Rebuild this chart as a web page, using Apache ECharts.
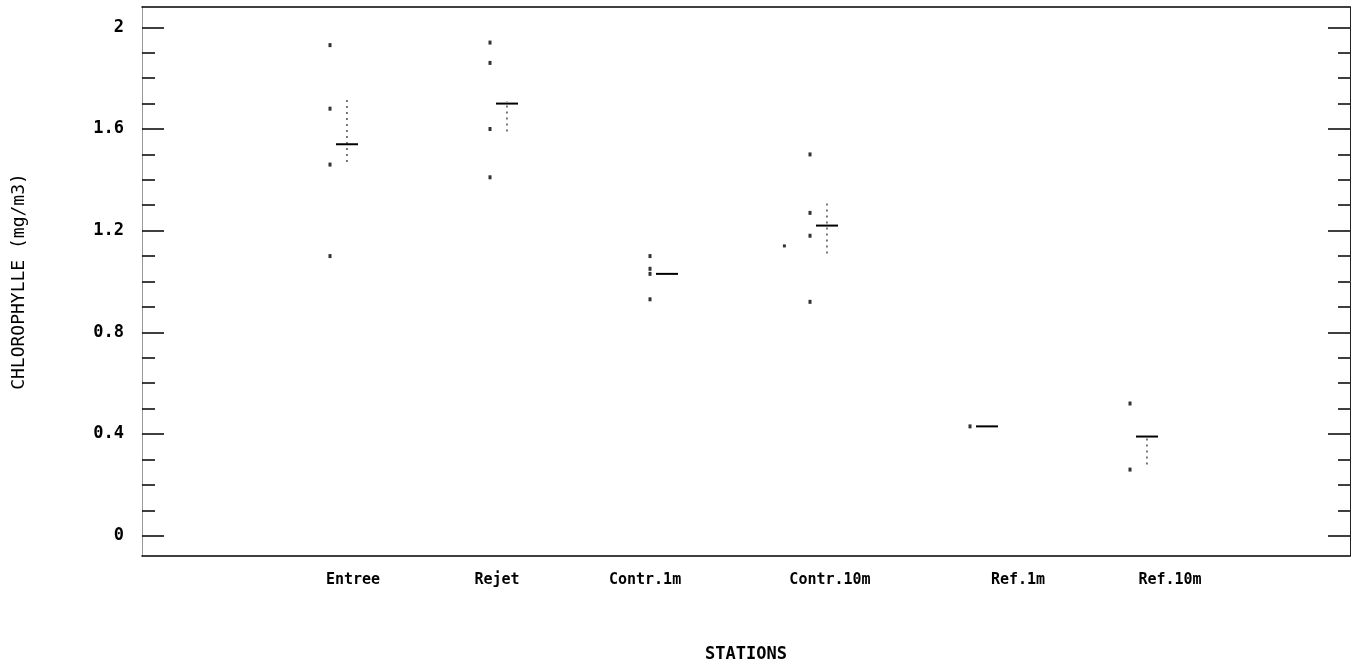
<!DOCTYPE html>
<html>
<head>
<meta charset="utf-8">
<script src="https://cdn.jsdelivr.net/npm/echarts@6/dist/echarts.min.js"></script>
<style>
  html, body { margin: 0; padding: 0; background: #fff; }
  #chart { width: 1361px; height: 672px; }
</style>
</head>
<body>
<div id="chart"></div>
<script>
// ---- data ----
const categories = ['Entree', 'Rejet', 'Contr.1m', 'Contr.10m', 'Ref.1m', 'Ref.10m'];
const entreeVals  = [1.93, 1.68, 1.46, 1.10];
const rejetVals   = [1.94, 1.86, 1.60, 1.41];
const contr1Vals  = [1.10, 1.05, 1.03, 0.93];
const contr10Vals = [1.50, 1.27, 1.18, 0.92];
const ref1Vals    = [0.43];
const ref10Vals   = [0.52, 0.26];
const strayPoint  = [[3.84, 1.14]];           // isolated dot left of Contr.10m
const means   = [1.54, 1.70, 1.03, 1.22, 0.43, 0.39];
const errLow  = [1.47, 1.59, null, 1.11, null, 0.28];
const errHigh = [1.72, 1.71, null, 1.31, null, 0.39];
const yTicks = [0, 0.4, 0.8, 1.2, 1.6, 2];
const yTickLabels = ['0', '0.4', '0.8', '1.2', '1.6', '2'];
const yMinorTicks = [0.1, 0.2, 0.3, 0.5, 0.6, 0.7, 0.9, 1.0, 1.1, 1.3, 1.4, 1.5, 1.7, 1.8, 1.9];
// label anchor positions along the station axis (layout)
const labelPos = [1.144, 2.044, 2.969, 4.125, 5.3, 6.25];

// ---- build ----
const stationVals = [entreeVals, rejetVals, contr1Vals, contr10Vals, ref1Vals, ref10Vals];
const dots = [];
stationVals.forEach((vals, i) => vals.forEach(v => dots.push([i + 1, v])));
const meanData = means.map((m, i) => [i + 1, m]);
const errData = [];
errLow.forEach((lo, i) => { if (lo != null) errData.push([i + 1, lo, errHigh[i]]); });

const FONT = 'DejaVu Sans Mono';
const X_MIN = -0.175, X_MAX = 7.375, Y_MIN = -0.08, Y_MAX = 2.08;

const yBase = { type: 'value', min: Y_MIN, max: Y_MAX, splitLine: { show: false } };

function tickLabel(v) {
  for (let i = 0; i < yTicks.length; i++) if (Math.abs(yTicks[i] - v) < 1e-6) return yTickLabels[i];
  return '';
}

const chart = echarts.init(document.getElementById('chart'), null, { renderer: 'canvas' });
chart.setOption({
  animation: false,
  backgroundColor: '#fff',
  grid: { left: 142, right: 11, top: 7, bottom: 116 },
  xAxis: [
    {
      type: 'value', min: X_MIN, max: X_MAX, position: 'bottom',
      splitLine: { show: false },
      axisLine: { show: true, onZero: false, lineStyle: { color: '#000', width: 1.5 } },
      axisTick: { show: false },
      axisLabel: {
        customValues: labelPos,
        formatter: v => categories[Math.round(v) - 1] || '',
        margin: 17, fontFamily: FONT, fontSize: 15, fontWeight: 'bold', color: '#000'
      },
      name: 'STATIONS', nameLocation: 'middle', nameGap: 90,
      nameTextStyle: { fontFamily: FONT, fontSize: 17, fontWeight: 'bold', color: '#000' }
    },
    {
      type: 'value', min: X_MIN, max: X_MAX, position: 'top',
      splitLine: { show: false },
      axisLine: { show: true, onZero: false, lineStyle: { color: '#000', width: 1.5 } },
      axisTick: { show: false }, axisLabel: { show: false }
    }
  ],
  yAxis: [
    Object.assign({}, yBase, {
      position: 'left',
      axisLine: { show: true, onZero: false, lineStyle: { color: '#999', width: 1 } },
      axisTick: { show: true, inside: true, length: 22, customValues: yTicks, lineStyle: { color: '#000', width: 1.5 } },
      axisLabel: { customValues: yTicks, formatter: tickLabel, margin: 18, fontFamily: FONT, fontSize: 17, fontWeight: 'bold', color: '#000' },
      name: 'CHLOROPHYLLE (mg/m3)', nameLocation: 'middle', nameGap: 114,
      nameTextStyle: { fontFamily: FONT, fontSize: 18, color: '#000' }
    }),
    Object.assign({}, yBase, {
      position: 'left',
      axisLine: { show: false, onZero: false },
      axisTick: { show: true, inside: true, length: 13, customValues: yMinorTicks, lineStyle: { color: '#000', width: 1.5 } },
      axisLabel: { show: false }
    }),
    Object.assign({}, yBase, {
      position: 'right',
      axisLine: { show: true, onZero: false, lineStyle: { color: '#222', width: 1 } },
      axisTick: { show: true, inside: true, length: 22, customValues: yTicks, lineStyle: { color: '#000', width: 1.5 } },
      axisLabel: { show: false }
    }),
    Object.assign({}, yBase, {
      position: 'right',
      axisLine: { show: false, onZero: false },
      axisTick: { show: true, inside: true, length: 12, customValues: yMinorTicks, lineStyle: { color: '#000', width: 1.5 } },
      axisLabel: { show: false }
    })
  ],
  series: [
    {
      type: 'scatter', xAxisIndex: 0, yAxisIndex: 0,
      symbol: 'rect', symbolSize: [3, 4],
      itemStyle: { color: '#000' },
      data: dots
    },
    {
      type: 'scatter', xAxisIndex: 0, yAxisIndex: 0,
      symbol: 'rect', symbolSize: [3, 3],
      itemStyle: { color: '#000' },
      data: strayPoint
    },
    {
      type: 'custom', xAxisIndex: 0, yAxisIndex: 0,
      renderItem: function (params, api) {
        const x = api.value(0), y = api.value(1);
        const p1 = api.coord([x + 0.0375, y]);
        const p2 = api.coord([x + 0.175, y]);
        return { type: 'line', shape: { x1: p1[0], y1: p1[1], x2: p2[0], y2: p2[1] },
                 style: { stroke: '#000', lineWidth: 2 } };
      },
      data: meanData
    },
    {
      type: 'custom', xAxisIndex: 0, yAxisIndex: 0,
      renderItem: function (params, api) {
        const x = api.value(0) + 0.106;
        const p1 = api.coord([x, api.value(1)]);
        const p2 = api.coord([x, api.value(2)]);
        return { type: 'line', shape: { x1: p1[0], y1: p1[1], x2: p2[0], y2: p2[1] },
                 style: { stroke: '#222', lineWidth: 1.2, lineDash: [2, 4] } };
      },
      data: errData
    }
  ]
});
</script>
</body>
</html>
